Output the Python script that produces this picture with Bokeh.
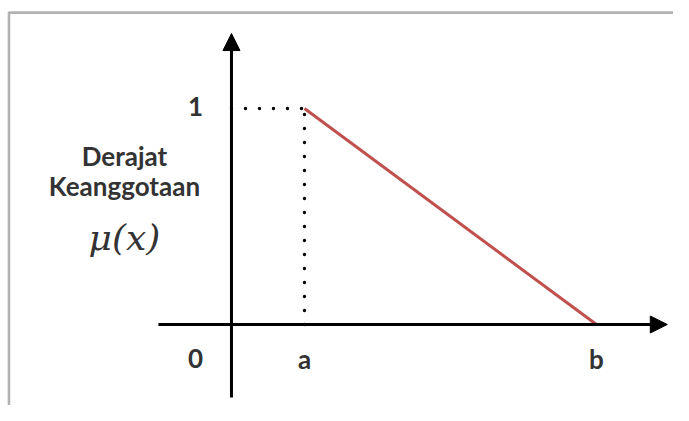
from bokeh.plotting import figure
from bokeh.models import Arrow, NormalHead, BoxAnnotation, Range1d
from bokeh.core.properties import value
from bokeh.embed import file_html
from bokeh.resources import INLINE

# --- data ---
a_val = 1.0
b_val = 5.0
membership_x = [a_val, b_val]
membership_y = [1.0, 0.0]
x_tick_pos = [0.0, a_val, b_val]
x_tick_labels = ["0", "a", "b"]
y_tick_pos = [1.0]
y_tick_labels = ["1"]
title_lines = ["Derajat", "Keanggotaan"]
mu_label = "μ(x)"

W, H = 673, 405
p = figure(width=W, height=H, output_backend="svg", toolbar_location=None,
           x_axis_location=None, y_axis_location=None, min_border=0,
           x_range=Range1d(-3.164, 6.055), y_range=Range1d(-0.375, 1.5))
p.grid.visible = False
p.outline_line_color = None
p.background_fill_color = "white"
p.border_fill_color = "white"

# picture frame (top and left edges)
p.add_layout(BoxAnnotation(left=-3.048, top=1.444, right=20, bottom=-20,
                           fill_color=None, line_color="#000000", line_width=2.6))

ink = "#333333"
# axes with arrow heads
p.add_layout(Arrow(x_start=0, y_start=-0.338, x_end=0, y_end=1.347,
                   line_color="black", line_width=3,
                   end=NormalHead(size=17, fill_color="black", line_color="black", line_width=1)))
p.add_layout(Arrow(x_start=-1.0, y_start=0, x_end=5.97, y_end=0,
                   line_color="black", line_width=3,
                   end=NormalHead(size=17, fill_color="black", line_color="black", line_width=1)))

# dotted guides
p.line([0, a_val], [1, 1], line_color="black", line_width=3.4,
       line_dash="0 14", line_cap="round")
p.line([a_val, a_val], [0, 1], line_color="black", line_width=3.4,
       line_dash="0 14", line_cap="round")

# membership line
p.line(membership_x, membership_y, line_color="#c0504d", line_width=3)

# tick labels
p.text(x=x_tick_pos, y=[0] * 3, text=x_tick_labels, x_offset=[-36, 0, 0], y_offset=34,
       text_align="center", text_baseline="alphabetic", text_font=value("Lato"),
       text_font_style="bold", text_font_size="26px", text_color=ink)
p.text(x=[0.0], y=y_tick_pos, text=y_tick_labels, x_offset=-36, y_offset=-2,
       text_align="center", text_baseline="alphabetic", text_font=value("Lato"),
       text_font_style="bold", text_font_size="26px", text_color=ink)

# axis title
p.text(x=[-1.466, -1.466], y=[0.782, 0.643], text=title_lines,
       text_align="center", text_baseline="alphabetic", text_font=value("Lato"),
       text_font_style="bold", text_font_size="26px", text_color=ink)
p.text(x=[-1.466], y=[0.402], text=[mu_label],
       text_align="center", text_baseline="alphabetic", text_font=value("DejaVu Serif"),
       text_font_style="italic", text_font_size="36px", text_color=ink)

open("out.html", "w").write(file_html(p, INLINE))
